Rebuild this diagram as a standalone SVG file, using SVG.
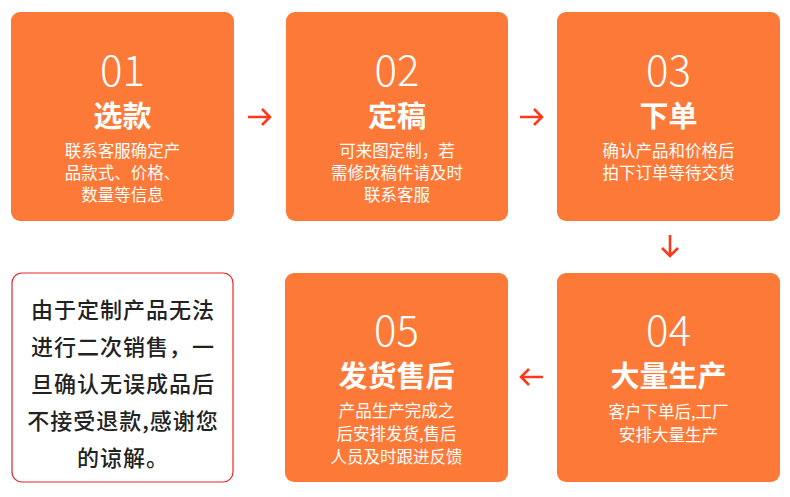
<svg xmlns="http://www.w3.org/2000/svg" width="790" height="497" viewBox="0 0 790 497">
<style>
.box{fill:#fd7937;}
.num{font-family:"Noto Sans CJK SC","Noto Sans",sans-serif;font-size:42px;font-weight:300;fill:#fff;text-anchor:middle;}
.ttl{font-family:"Noto Sans CJK SC",sans-serif;font-size:29px;font-weight:700;fill:#fff;text-anchor:middle;}
.sub{font-family:"Noto Sans CJK SC",sans-serif;font-size:16.5px;font-weight:400;fill:#fff;text-anchor:middle;}
.note{font-family:"Noto Sans CJK SC",sans-serif;font-size:22px;font-weight:500;fill:#222;text-anchor:middle;letter-spacing:1px;}
.arr{fill:none;stroke:#fb3a1b;stroke-width:2.6;stroke-linecap:butt;}
</style>
<rect width="790" height="497" fill="#fff"/>
<g id="node1">
<rect class="box" x="11" y="12" width="223" height="209" rx="9"/>
<text class="num" x="122.5" y="85.5">01</text>
<text class="ttl" x="122.5" y="126.5">选款</text>
<text class="sub" x="122.5" y="157">联系客服确定产</text>
<text class="sub" x="122.5" y="179">品款式、价格、</text>
<text class="sub" x="122.5" y="201">数量等信息</text>
</g>
<g id="node2">
<rect class="box" x="286" y="12" width="222" height="209" rx="9"/>
<text class="num" x="397" y="85.5">02</text>
<text class="ttl" x="397" y="126.5">定稿</text>
<text class="sub" x="397" y="157">可来图定制，若</text>
<text class="sub" x="397" y="179">需修改稿件请及时</text>
<text class="sub" x="397" y="201">联系客服</text>
</g>
<g id="node3">
<rect class="box" x="557" y="12" width="223" height="209" rx="9"/>
<text class="num" x="668.5" y="85.5">03</text>
<text class="ttl" x="668.5" y="126.5">下单</text>
<text class="sub" x="668.5" y="157">确认产品和价格后</text>
<text class="sub" x="668.5" y="179">拍下订单等待交货</text>
</g>
<g id="node4">
<rect class="box" x="557" y="273" width="223" height="209" rx="9"/>
<text class="num" x="668.5" y="346">04</text>
<text class="ttl" x="668.5" y="387">大量生产</text>
<text class="sub" x="668.5" y="418">客户下单后,工厂</text>
<text class="sub" x="668.5" y="441">安排大量生产</text>
</g>
<g id="node5">
<rect class="box" x="285" y="273" width="223" height="209" rx="9"/>
<text class="num" x="396.5" y="346">05</text>
<text class="ttl" x="396.5" y="387">发货售后</text>
<text class="sub" x="396.5" y="417">产品生产完成之</text>
<text class="sub" x="396.5" y="440">后安排发货,售后</text>
<text class="sub" x="396.5" y="463">人员及时跟进反馈</text>
</g>
<g id="note">
<rect x="12" y="273" width="221" height="209" rx="10" fill="#fff" stroke="#e8262a" stroke-width="1.2"/>
<text class="note" x="123" y="318">由于定制产品无法</text>
<text class="note" x="123" y="355">进行二次销售，一</text>
<text class="note" x="123" y="392">旦确认无误成品后</text>
<text class="note" x="123" y="429">不接受退款,感谢您</text>
<text class="note" x="123" y="466">的谅解。</text>
</g>
<g id="connectors">
<path class="arr" d="M248 117 H270 M262 109 L270 117 L262 125"/>
<path class="arr" d="M520 117 H542 M534 109 L542 117 L534 125"/>
<path class="arr" d="M670 235 V256 M662 248 L670 256 L678 248"/>
<path class="arr" d="M543 377 H521 M529 369 L521 377 L529 385"/>
</g>
</svg>
